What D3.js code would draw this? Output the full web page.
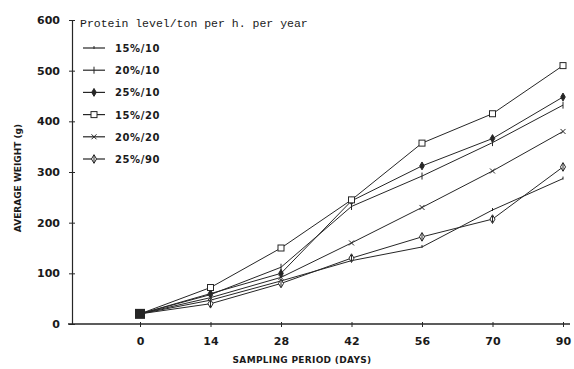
<!DOCTYPE html>
<html>
<head>
<meta charset="utf-8">
<script src="https://cdn.jsdelivr.net/npm/d3@7"></script>
<style>
  html, body { margin: 0; padding: 0; background: #fff; }
  svg { display: block; }
  text { fill: #1a1a1a; }
</style>
</head>
<body>
<svg id="chart" width="574" height="369"></svg>
<script>
// Sampling days (equally spaced categories on the x axis)
const days = ["0", "14", "28", "42", "56", "70", "90"];
const yTicks = [0, 100, 200, 300, 400, 500, 600];

// Average weight (g) per treatment, protein level / stocking
const s15_10 = [20, 47, 85, 125, 152, 225, 287];
const s20_10 = [20, 58, 112, 232, 292, 358, 432];
const s25_10 = [20, 60, 100, 243, 312, 366, 448];
const s15_20 = [20, 72, 150, 245, 357, 415, 510];
const s20_20 = [20, 52, 92, 160, 230, 302, 380];
const s25_90 = [20, 40, 80, 130, 172, 207, 310];

const seriesNames = ["15%/10", "20%/10", "25%/10", "15%/20", "20%/20", "25%/90"];
const seriesValues = [s15_10, s20_10, s25_10, s15_20, s20_20, s25_90];
const markers = ["tick", "cross", "filled", "square", "x", "diamond"];
const legendTitle = "Protein level/ton per h. per year";

const svg = d3.select("#chart");
const ink = "#262626";
const font = "'DejaVu Sans', sans-serif";

const x = d3.scalePoint().domain(days).range([140, 563]);
const y = d3.scaleLinear().domain([0, 600]).range([324, 20]);
const axisLeftX = 72;

// y axis
const yAxis = svg.append("g")
  .attr("transform", `translate(${axisLeftX},0)`)
  .call(d3.axisLeft(y).tickValues(yTicks).tickSize(3).tickSizeOuter(0).tickPadding(9));
yAxis.select(".domain").attr("stroke", ink).attr("stroke-width", 1.2);
yAxis.selectAll(".tick line").attr("stroke", ink).attr("x2", 3).attr("x1", -3);
yAxis.selectAll(".tick text").attr("font-family", font).attr("font-size", 11)
  .attr("font-weight", "bold").attr("fill", ink);

// x axis
const xAxis = svg.append("g")
  .attr("transform", `translate(0,${y(0)})`)
  .call(d3.axisBottom(x).tickSize(3).tickSizeOuter(0).tickPadding(10));
xAxis.select(".domain").remove();
xAxis.selectAll(".tick line").attr("stroke", ink).attr("y1", -2).attr("y2", 3);
xAxis.selectAll(".tick text").attr("font-family", font).attr("font-size", 11)
  .attr("font-weight", "bold").attr("fill", ink);
svg.append("line")
  .attr("x1", axisLeftX - 4).attr("x2", 570)
  .attr("y1", y(0)).attr("y2", y(0))
  .attr("stroke", ink).attr("stroke-width", 1.6);

// axis titles
svg.append("text")
  .attr("transform", `translate(21,${y(300) + 6}) rotate(-90)`)
  .attr("text-anchor", "middle")
  .attr("font-family", font).attr("font-size", 9).attr("font-weight", "bold")
  .text("AVERAGE WEIGHT (g)");
svg.append("text")
  .attr("x", 302).attr("y", 363)
  .attr("text-anchor", "middle")
  .attr("font-family", font).attr("font-size", 9).attr("font-weight", "bold")
  .attr("letter-spacing", 0.3)
  .text("SAMPLING PERIOD (DAYS)");

// marker drawing
function drawMarker(g, type, cx, cy) {
  const m = g.append("g").attr("transform", `translate(${cx},${cy})`)
    .attr("stroke", ink).attr("stroke-width", 1);
  if (type === "tick") {
    m.append("line").attr("x1", 0).attr("x2", 0).attr("y1", -2).attr("y2", 1);
  } else if (type === "cross") {
    m.append("line").attr("x1", 0).attr("x2", 0).attr("y1", -3.5).attr("y2", 3.5);
  } else if (type === "filled") {
    m.append("path").attr("d", d3.symbol(d3.symbolDiamond, 18)).attr("fill", ink);
  } else if (type === "square") {
    m.append("rect").attr("x", -3).attr("y", -3).attr("width", 6).attr("height", 6)
      .attr("fill", "#fff");
  } else if (type === "x") {
    m.append("path").attr("d", "M-2.5,-2.5L2.5,2.5M-2.5,2.5L2.5,-2.5").attr("fill", "none");
  } else if (type === "diamond") {
    m.append("path").attr("d", d3.symbol(d3.symbolDiamond, 22)).attr("fill", "#fff");
    m.append("line").attr("x1", 0).attr("x2", 0).attr("y1", -3.5).attr("y2", 3.5);
  }
}

// lines
const line = d3.line().x((d, i) => x(days[i])).y(d => y(d));
const plot = svg.append("g");
seriesValues.forEach((vals, k) => {
  plot.append("path").datum(vals)
    .attr("d", line).attr("fill", "none")
    .attr("stroke", ink).attr("stroke-width", 1);
});
seriesValues.forEach((vals, k) => {
  vals.forEach((v, i) => {
    if (i > 0) drawMarker(plot, markers[k], x(days[i]), y(v));
  });
});
// shared starting point
plot.append("rect")
  .attr("x", x(days[0]) - 5).attr("y", y(s15_10[0]) - 5)
  .attr("width", 10).attr("height", 10).attr("fill", ink);

// legend
const legend = svg.append("g");
legend.append("text")
  .attr("x", 80).attr("y", 27)
  .attr("font-family", "'Liberation Mono', 'DejaVu Sans Mono', monospace")
  .attr("font-size", 11.5)
  .text(legendTitle);
seriesNames.forEach((name, k) => {
  const ly = 48 + k * 22.2;
  legend.append("line")
    .attr("x1", 83).attr("x2", 105).attr("y1", ly).attr("y2", ly)
    .attr("stroke", ink).attr("stroke-width", 1.2);
  drawMarker(legend, markers[k], 94, ly);
  legend.append("text")
    .attr("x", 115).attr("y", ly + 4)
    .attr("font-family", font).attr("font-size", 10).attr("font-weight", "bold")
    .attr("letter-spacing", 0.6)
    .text(name);
});
</script>
</body>
</html>
